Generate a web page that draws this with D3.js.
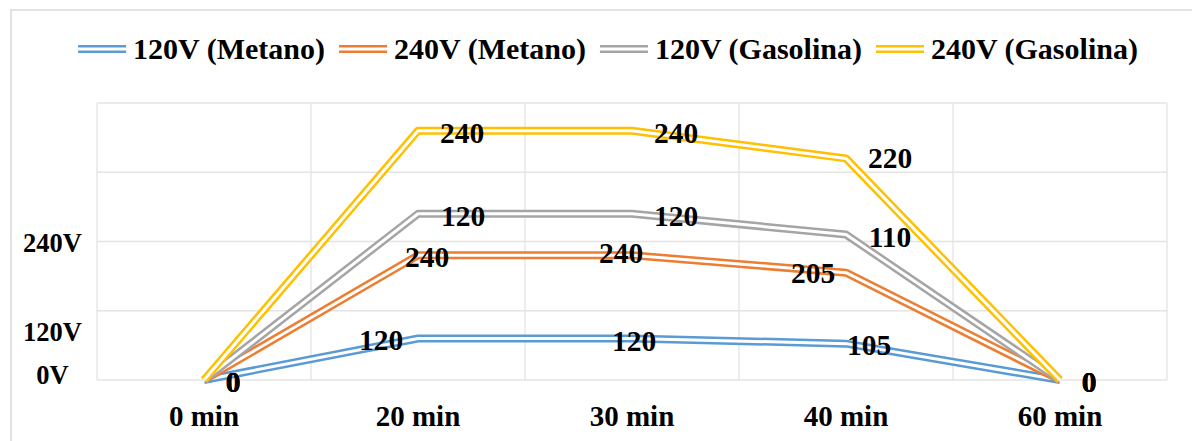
<!DOCTYPE html>
<html>
<head>
<meta charset="utf-8">
<script src="https://cdn.jsdelivr.net/npm/d3@7"></script>
<style>
  body { margin: 0; background: #fff; }
  svg text { font-family: "Liberation Serif", "Times New Roman", serif; font-weight: bold; fill: #000; }
</style>
</head>
<body>
<div id="chart"></div>
<script>
// chart data
const categories = ["0 min", "20 min", "30 min", "40 min", "60 min"];
const seriesNames = ["120V (Metano)", "240V (Metano)", "120V (Gasolina)", "240V (Gasolina)"];
const metano120 = [0, 120, 120, 105, 0];
const metano240 = [0, 240, 240, 205, 0];
const gasolina120 = [0, 120, 120, 110, 0];
const gasolina240 = [0, 240, 240, 220, 0];
const yTickLabels = ["0V", "120V", "240V"];
const yTickValues = [0, 125, 380];
const gridValues = [0, 200, 400, 600, 800];

const colors = ["#5B9BD5", "#ED7D31", "#A5A5A5", "#FFC000"];

// label nudges (px) per series / category, like the hand-moved excel labels
const labelOffsets = [
  [[29, 2], [-37, 1.5], [2, 2.5], [23, 1], [29, 2]],
  [[29, 2], [9, 1.5], [-11, -2], [-33, 0], [29, 2]],
  [[29, 2], [45, 2], [44, 2], [44, 2], [29, 2]],
  [[29, 2], [44, 2], [44, 2], [44, 0], [29, 2]]
];

const width = 1192, height = 441;
const plot = { left: 97, right: 1167, top: 103, bottom: 380 };
const serif = "'Liberation Serif', 'Times New Roman', serif";

const svg = d3.select("#chart").append("svg")
  .attr("width", width)
  .attr("height", height)
  .attr("font-family", serif)
  .attr("font-weight", "bold");

// outer chart border (runs off the picture on right and bottom)
svg.append("rect")
  .attr("x", 11).attr("y", 10)
  .attr("width", 1200).attr("height", 460)
  .attr("fill", "#fff")
  .attr("stroke", "#d9d9d9")
  .attr("stroke-width", 1.5);

const rows = categories.map((c, i) => ({
  cat: c,
  s0: metano120[i], s1: metano240[i], s2: gasolina120[i], s3: gasolina240[i]
}));
const stacked = d3.stack().keys(["s0", "s1", "s2", "s3"])(rows);

const x = d3.scaleBand().domain(categories).range([plot.left, plot.right]);
const cx = c => x(c) + x.bandwidth() / 2;
const y = d3.scaleLinear().domain([0, 800]).range([plot.bottom, plot.top]);

// gridlines
const grid = svg.append("g").attr("stroke", "#e4e4e4").attr("stroke-width", 1.3);
grid.selectAll("line.h").data(gridValues).join("line")
  .attr("class", "h")
  .attr("x1", plot.left).attr("x2", plot.right)
  .attr("y1", d => y(d)).attr("y2", d => y(d));
grid.selectAll("line.v").data(categories.concat(["end"])).join("line")
  .attr("class", "v")
  .attr("x1", (d, i) => i < categories.length ? x(d) : plot.right)
  .attr("x2", (d, i) => i < categories.length ? x(d) : plot.right)
  .attr("y1", plot.top).attr("y2", plot.bottom);

// y axis labels
svg.append("g").selectAll("text").data(yTickValues).join("text")
  .attr("x", 52.5)
  .attr("y", d => y(d) - 5)
  .attr("dy", "0.34em")
  .attr("text-anchor", "middle")
  .attr("font-size", 26.5)
  .text((d, i) => yTickLabels[i]);

// x axis labels
svg.append("g").selectAll("text").data(categories).join("text")
  .attr("x", d => cx(d))
  .attr("y", 426)
  .attr("text-anchor", "middle")
  .attr("font-size", 29)
  .text(d => d);

// double lines
const line = d3.line()
  .x(d => cx(d.data.cat))
  .y(d => y(d[1]));

stacked.forEach((s, i) => {
  const g = svg.append("g");
  g.append("path").datum(s)
    .attr("d", line).attr("fill", "none")
    .attr("stroke", colors[i]).attr("stroke-width", 8)
    .attr("stroke-linejoin", "round");
  g.append("path").datum(s)
    .attr("d", line).attr("fill", "none")
    .attr("stroke", "#fff").attr("stroke-width", 3)
    .attr("stroke-linejoin", "round");
});

// data labels
const values = [metano120, metano240, gasolina120, gasolina240];
stacked.forEach((s, i) => {
  svg.append("g").selectAll("text").data(s).join("text")
    .attr("x", (d, j) => cx(d.data.cat) + labelOffsets[i][j][0])
    .attr("y", (d, j) => y(d[1]) + labelOffsets[i][j][1])
    .attr("dy", "0.34em")
    .attr("text-anchor", "middle")
    .attr("font-size", 29.5)
    .text((d, j) => values[i][j]);
});

// legend
const legend = svg.append("g");
let lx = 0;
seriesNames.forEach((name, i) => {
  const it = legend.append("g").attr("transform", `translate(${lx},0)`);
  it.append("line").attr("x1", 0).attr("x2", 48).attr("y1", 0).attr("y2", 0)
    .attr("stroke", colors[i]).attr("stroke-width", 8);
  it.append("line").attr("x1", 0).attr("x2", 48).attr("y1", 0).attr("y2", 0)
    .attr("stroke", "#fff").attr("stroke-width", 3);
  const t = it.append("text").attr("x", 55).attr("y", 0).attr("dy", "0.34em")
    .attr("font-size", 30).text(name);
  lx += 55 + t.node().getComputedTextLength() + 14;
});
const legendWidth = lx - 14;
legend.attr("transform", `translate(${608 - legendWidth / 2},49)`);
</script>
</body>
</html>
